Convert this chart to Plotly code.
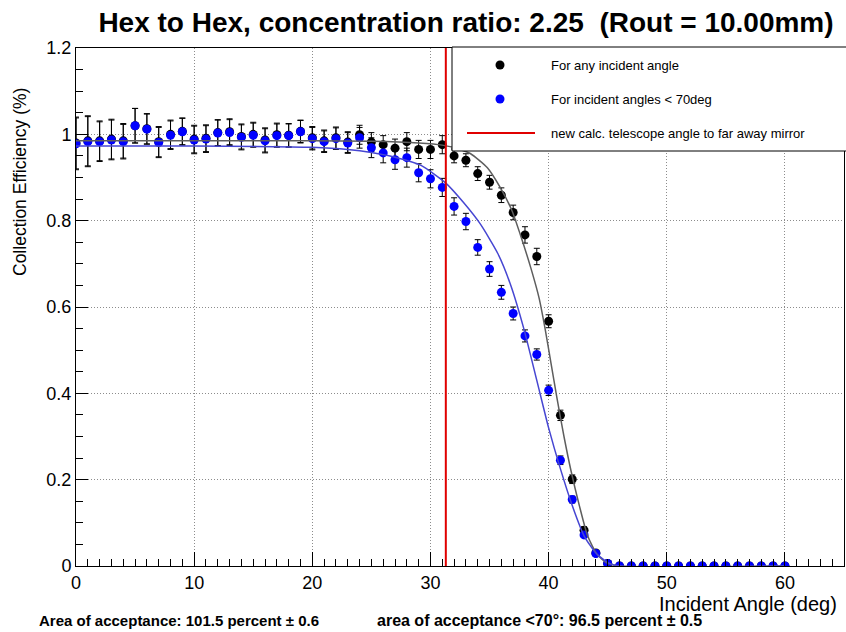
import plotly.graph_objects as go

# ---------------- data ----------------
angles = list(range(0, 61))

eff_any = [0.980, 0.985, 0.985, 0.989, 0.985, 1.020, 1.013, 0.983, 1.000, 1.007,
           0.989, 0.991, 1.004, 1.006, 0.995, 1.000, 0.987, 0.999, 0.998, 1.007,
           0.992, 0.985, 0.992, 0.982, 0.999, 0.982, 0.976, 0.968, 0.983, 0.965,
           0.965, 0.976, 0.950, 0.940, 0.909, 0.889, 0.859, 0.819, 0.767, 0.717,
           0.567, 0.349, 0.201, 0.083, 0.030, 0.006, 0.0, 0.0, 0.0, 0.0,
           0.0, 0.0, 0.0, 0.0, 0.0, 0.0, 0.0, 0.0, 0.0, 0.0, 0.0]
err_any = [0.060, 0.058, 0.046, 0.046, 0.040, 0.040, 0.035, 0.035, 0.033, 0.031,
           0.032, 0.031, 0.030, 0.030, 0.029, 0.028, 0.028, 0.027, 0.027, 0.026,
           0.026, 0.025, 0.025, 0.024, 0.022, 0.022, 0.021, 0.021, 0.021, 0.021,
           0.021, 0.021, 0.016, 0.015, 0.016, 0.016, 0.017, 0.017, 0.019, 0.019,
           0.015, 0.012, 0.010, 0.008, 0.005, 0.002, 0.0, 0.0, 0.0, 0.0,
           0.0, 0.0, 0.0, 0.0, 0.0, 0.0, 0.0, 0.0, 0.0, 0.0, 0.0]

eff_lt70 = [0.978, 0.983, 0.983, 0.987, 0.983, 1.020, 1.012, 0.981, 0.998, 1.006,
            0.987, 0.989, 1.003, 1.004, 0.993, 0.998, 0.985, 0.997, 0.997, 1.006,
            0.990, 0.983, 0.990, 0.980, 0.992, 0.969, 0.957, 0.941, 0.946, 0.911,
            0.897, 0.877, 0.833, 0.798, 0.738, 0.688, 0.634, 0.585, 0.533, 0.490,
            0.407, 0.245, 0.154, 0.072, 0.029, 0.006, 0.0, 0.0, 0.0, 0.0,
            0.0, 0.0, 0.0, 0.0, 0.0, 0.0, 0.0, 0.0, 0.0, 0.0, 0.0]
err_lt70 = [0.060, 0.058, 0.046, 0.046, 0.040, 0.040, 0.035, 0.035, 0.033, 0.031,
            0.032, 0.031, 0.030, 0.030, 0.029, 0.028, 0.028, 0.027, 0.027, 0.026,
            0.026, 0.025, 0.025, 0.024, 0.024, 0.023, 0.023, 0.022, 0.022, 0.021,
            0.021, 0.021, 0.020, 0.019, 0.018, 0.017, 0.016, 0.015, 0.014, 0.013,
            0.012, 0.010, 0.008, 0.006, 0.004, 0.002, 0.0, 0.0, 0.0, 0.0,
            0.0, 0.0, 0.0, 0.0, 0.0, 0.0, 0.0, 0.0, 0.0, 0.0, 0.0]

# fitted curves
fit_any_x = [0, 10, 20, 25, 29, 31, 32.5, 33.4, 34.8, 35.9, 36.9, 37.6, 38.5,
             39.2, 39.7, 40.2, 40.7, 41.3, 41.9, 42.6, 43.3, 44.1, 45, 46, 60]
fit_any_y = [0.985, 0.985, 0.985, 0.984, 0.980, 0.975, 0.965, 0.955, 0.923, 0.877,
             0.823, 0.768, 0.690, 0.620, 0.550, 0.470, 0.390, 0.300, 0.220, 0.140,
             0.070, 0.027, 0.006, 0.0, 0.0]
fit_lt70_x = [0, 10, 20, 23, 25, 27, 29.2, 31.3, 32.8, 34.2, 35.7, 36.8, 37.9,
              39, 40, 41, 42, 43, 44, 45, 46, 60]
fit_lt70_y = [0.973, 0.973, 0.970, 0.965, 0.958, 0.947, 0.928, 0.887, 0.842, 0.793,
              0.724, 0.650, 0.550, 0.430, 0.320, 0.225, 0.140, 0.070, 0.030, 0.008,
              0.0, 0.0]

telescope_angle = 31.3
y_span = [0.0, 1.2]

title_text = "Hex to Hex, concentration ratio: 2.25  (Rout = 10.00mm)"
legend_labels = ["For any incident angle", "For incident angles < 70deg",
                 "new calc. telescope angle to far away mirror"]
footer_left = "Area of acceptance: 101.5 percent \u00b1 0.6"
footer_right = "area of acceptance <70\u00b0: 96.5 percent \u00b1 0.5"

# ---------------- layout helpers ----------------
W, H = 846, 632
L, R, T, B = 76, 844, 48, 566


def px(xp):
    return (xp - L) / (R - L)


def py(yp):
    return (B - yp) / (B - T)


fig = go.Figure()

fig.add_trace(go.Scatter(
    x=angles, y=eff_any, mode="markers",
    marker=dict(color="black", size=9),
    error_y=dict(type="data", array=err_any, color="black", thickness=1, width=3),
    showlegend=False))
fig.add_trace(go.Scatter(
    x=angles, y=eff_lt70, mode="markers",
    marker=dict(color="#0000ff", size=9),
    error_y=dict(type="data", array=err_lt70, color="black", thickness=1, width=3),
    showlegend=False))
fig.add_trace(go.Scatter(
    x=fit_any_x, y=fit_any_y, mode="lines", line=dict(color="#5e5e5e", width=1.5, shape="spline", smoothing=0.6),
    showlegend=False))
fig.add_trace(go.Scatter(
    x=fit_lt70_x, y=fit_lt70_y, mode="lines", line=dict(color="#4646d2", width=1.5, shape="spline", smoothing=0.6),
    showlegend=False))
fig.add_trace(go.Scatter(
    x=[telescope_angle, telescope_angle], y=y_span, mode="lines",
    line=dict(color="#e00000", width=2), showlegend=False))

axis_font = dict(family="Liberation Sans, Arial, sans-serif", size=18, color="black")

fig.update_xaxes(range=[0, 65], dtick=10, tick0=0, ticks="inside", ticklen=14, tickwidth=1,
                 tickcolor="black", showline=True, linecolor="black", linewidth=1, mirror=True,
                 showgrid=True, gridcolor="#8c8c8c", griddash="1px,2px", gridwidth=1, zeroline=False,
                 tickfont=axis_font,
                 minor=dict(dtick=1, ticks="inside", ticklen=7, tickcolor="black", showgrid=False))
fig.update_yaxes(range=[0, 1.2], dtick=0.2, tick0=0, ticks="inside", ticklen=12, tickwidth=1,
                 tickcolor="black", showline=True, linecolor="black", linewidth=1, mirror=True,
                 showgrid=True, gridcolor="#8c8c8c", griddash="1px,2px", gridwidth=1, zeroline=False,
                 tickfont=axis_font, tickformat="~g",
                 minor=dict(dtick=0.05, ticks="inside", ticklen=7, tickcolor="black", showgrid=False))

shapes = [
    dict(type="rect", xref="paper", yref="paper", x0=px(452), x1=px(847), y0=py(151), y1=py(47),
         fillcolor="white", line=dict(color="black", width=1), layer="above"),
    dict(type="circle", xref="paper", yref="paper", xsizemode="pixel", ysizemode="pixel",
         xanchor=px(500), yanchor=py(65), x0=-4.5, x1=4.5, y0=-4.5, y1=4.5,
         fillcolor="black", line=dict(width=0), layer="above"),
    dict(type="circle", xref="paper", yref="paper", xsizemode="pixel", ysizemode="pixel",
         xanchor=px(500), yanchor=py(99), x0=-4.5, x1=4.5, y0=-4.5, y1=4.5,
         fillcolor="#0000ff", line=dict(width=0), layer="above"),
    dict(type="line", xref="paper", yref="paper", x0=px(467), x1=px(535), y0=py(133), y1=py(133),
         line=dict(color="#e00000", width=2), layer="above"),
]

leg_font = dict(family="Liberation Sans, Arial, sans-serif", size=13, color="black")
annotations = []
for lab, yy in zip(legend_labels, [65, 99, 133]):
    annotations.append(dict(text=lab, xref="paper", yref="paper", x=px(549), y=py(yy),
                            xanchor="left", yanchor="middle", showarrow=False, font=leg_font))

annotations.append(dict(text="Incident Angle (deg)", xref="paper", yref="paper", x=px(839), y=py(604),
                        xanchor="right", yanchor="middle", showarrow=False,
                        font=dict(family="Liberation Sans, Arial, sans-serif", size=20, color="black")))
annotations.append(dict(text="Collection Efficiency (%)", xref="paper", yref="paper", x=px(20), y=py(182),
                        xanchor="center", yanchor="middle", showarrow=False, textangle=-90,
                        font=dict(family="Liberation Sans, Arial, sans-serif", size=17.5, color="black")))
annotations.append(dict(text="<b>" + footer_left + "</b>", xref="paper", yref="paper", x=px(37), y=py(620),
                        xanchor="left", yanchor="middle", showarrow=False,
                        font=dict(family="Liberation Sans, Arial, sans-serif", size=15, color="black")))
annotations.append(dict(text="<b>" + footer_right + "</b>", xref="paper", yref="paper", x=px(375), y=py(620),
                        xanchor="left", yanchor="middle", showarrow=False,
                        font=dict(family="Liberation Sans, Arial, sans-serif", size=16, color="black")))

fig.update_layout(
    width=W, height=H, autosize=False,
    margin=dict(l=L, r=W - R, t=T, b=H - B),
    paper_bgcolor="white", plot_bgcolor="white",
    title=dict(text="<b>" + title_text + "</b>", x=466 / W, xanchor="center", xref="container",
               y=1 - 22 / H, yanchor="middle", yref="container",
               font=dict(family="Liberation Sans, Arial, sans-serif", size=28, color="black")),
    shapes=shapes, annotations=annotations, showlegend=False,
)

fig.write_html("out.html")
